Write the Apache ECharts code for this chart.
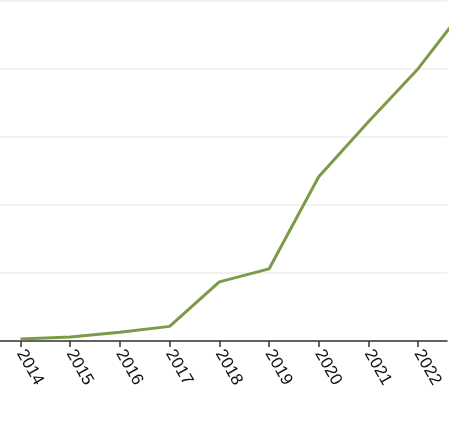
<!DOCTYPE html>
<html>
<head>
<meta charset="utf-8">
<script src="https://cdn.jsdelivr.net/npm/echarts@6/dist/echarts.min.js"></script>
<style>html,body{margin:0;padding:0;background:#fff;}#c{width:465px;height:430px;}</style>
</head>
<body>
<div id="c"></div>
<script>
var years = [2014, 2015, 2016, 2017, 2018, 2019, 2020, 2021, 2022, 2023];
var values = [0.6, 1.2, 2.6, 4.3, 17.4, 21.2, 48.3, 64.5, 80.1, 99];
var tickYears = [2014, 2015, 2016, 2017, 2018, 2019, 2020, 2021, 2022];
var yTicks = [0, 20, 40, 60, 80, 100];

var chart = echarts.init(document.getElementById('c'), null, {renderer: 'canvas'});
chart.setOption({
  animation: false,
  grid: {left: 0, right: 18, top: 1, bottom: 89, containLabel: false},
  xAxis: {
    type: 'value',
    min: 2013.5875,
    max: 2022.581,
    axisLine: {show: true, lineStyle: {color: '#333', width: 1.5}},
    axisTick: {show: true, customValues: tickYears, length: 6, lineStyle: {color: '#333', width: 1.5}},
    axisLabel: {
      customValues: tickYears,
      rotate: -60,
      fontSize: 17,
      fontFamily: 'Arial',
      color: '#111',
      margin: 10,
      formatter: function (v) { return String(Math.round(v)); }
    },
    splitLine: {show: false}
  },
  yAxis: {
    type: 'value',
    min: yTicks[0],
    max: yTicks[yTicks.length - 1],
    interval: 20,
    axisLine: {show: false},
    axisTick: {show: false},
    axisLabel: {show: false},
    splitLine: {show: true, lineStyle: {color: '#eeeeee', width: 1.5}}
  },
  series: [{
    type: 'line',
    data: years.map(function (y, i) { return [y, values[i]]; }),
    showSymbol: false,
    clip: true,
    lineStyle: {color: '#7d9a48', width: 3}
  }]
});
</script>
</body>
</html>
